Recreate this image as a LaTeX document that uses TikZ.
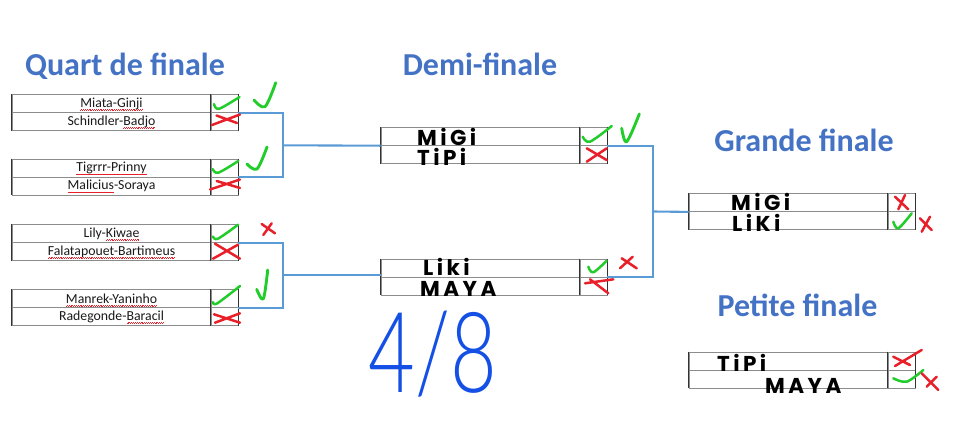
\documentclass[tikz,border=0pt]{standalone}
\usepackage{graphicx}
\usepackage{fontspec}
\setmainfont{Carlito}
\newfontfamily\titlefont{Carlito}
\newfontfamily\hand[LetterSpace=16]{Poppins}
\newfontfamily\thinfont{Lato Light}
\definecolor{titleblue}{HTML}{4472C4}
\definecolor{linkblue}{HTML}{5B9BD5}
\definecolor{okgreen}{HTML}{22CC2A}
\definecolor{kored}{HTML}{E8202A}
\definecolor{gridgray}{HTML}{8C8C8C}
\definecolor{handblue}{HTML}{1450E6}
\newsavebox\wavebox
\newcommand\redwave[1]{\sbox\wavebox{#1}\rlap{\usebox\wavebox}\raisebox{-3.2pt}[0pt][0pt]{\color{kored}\xleaders\hbox{\rule[0pt]{0.9pt}{0.55pt}\rule[0.55pt]{0.9pt}{0.55pt}}\hskip\wd\wavebox}}
\newcommand\matchbox[5]{%
  \node[namecell] (#1a) at (#2+99.5,#3+9) {#4};
  \node[rescell] (#1ar) at (#2+212.5,#3+9) {};
  \node[namecell] (#1b) at (#2+99.5,#3+27) {#5};
  \node[rescell] (#1br) at (#2+212.5,#3+27) {};
  \draw[vrule] (#1a.north west) -- (#1b.south west);
  \draw[vrule] (#1ar.north west) -- (#1br.south west);
  \draw[vrule] (#1ar.north east) -- (#1br.south east);
}
\newcommand\okpath[4][okline]{\draw[#1] plot[smooth,tension=0.55] coordinates {(#2) (#3) (#4)};}
\newcommand\kopath[5][koline]{\draw[#1] (#2) -- (#3) (#4) -- (#5);}
\begin{document}
\begin{tikzpicture}[x=1pt,y=-1pt,
  namecell/.style={draw=gridgray, line width=0.8pt, minimum width=199pt, minimum height=18pt, inner sep=0pt, font=\fontsize{13.8}{14}\selectfont, text=black!90},
  rescell/.style={draw=gridgray, line width=0.8pt, minimum width=27pt, minimum height=18pt, inner sep=0pt},
  vrule/.style={draw=black!80, line width=0.8pt},
  link/.style={draw=linkblue, line width=2.1pt},
  title/.style={font=\titlefont\bfseries\fontsize{32}{32}\selectfont, text=titleblue, anchor=base, inner sep=0pt},
  handtext/.style={font=\hand\bfseries\fontsize{21.5}{21.5}\selectfont, text=black, anchor=base west, inner sep=0pt},
  okline/.style={draw=okgreen, line width=2.5pt, line cap=round, line join=round},
  koline/.style={draw=kored, line width=2.5pt, line cap=round, line join=round},
  bigok/.style={okline, line width=2.9pt}
]
\useasboundingbox (0,0) rectangle (960,440);

% titles
\node[title] (tq) at (125,75) {Quart de finale};
\node[title] (td) at (480,75) {Demi-finale};
\node[title] (tg) at (804,151) {Grande finale};
\node[title] (tp) at (797.5,316.5) {Petite finale};

% quarter finals
\matchbox{q1}{12}{94.5}{\redwave{Miata-Ginji}}{Schindler-\redwave{Badjo}}
\matchbox{q2}{12}{159}{\redwave{Tigrrr-Prinny}}{\redwave{Malicius}-Soraya}
\matchbox{q3}{12}{224.5}{Lily-\redwave{Kiwae}}{\redwave{Falatapouet-Bartimeus}}
\matchbox{q4}{12}{289.5}{\redwave{Manrek-Yaninho}}{Radegonde-\redwave{Baracil}}

% semi finals, finals
\matchbox{d1}{381}{127.3}{}{}
\matchbox{d2}{381}{259}{}{}
\matchbox{g1}{689}{193.5}{}{}
\matchbox{p1}{689}{352}{}{}

% handwritten names
\node[handtext] (hd1a) at (417,145) {MiGi};
\node[handtext] (hd1b) at (417,165) {TiPi};
\node[handtext] (hd2a) at (423,275) {Liki};
\node[handtext] (hd2b) at (420,296) {MAYA};
\node[handtext] (hg1a) at (731,210) {MiGi};
\node[handtext] (hg1b) at (732,231) {LiKi};
\node[handtext] (hp1a) at (717,371) {TiPi};
\node[handtext] (hp1b) at (765,393) {MAYA};

% connectors
\coordinate (j1) at (283,145.3);
\draw[link] (q1ar.south east) -| (j1) |- (q2ar.south east);
\draw[link] (j1) -- (d1a.south west);
\coordinate (j2) at (283,275);
\draw[link] (q3ar.south east) -| (j2) |- (q4ar.south east);
\draw[link] (j2) -- (j2 -| d2a.west);
\coordinate (j3) at (653,211.5);
\draw[link] (d1ar.south east) -| (j3) |- (d2ar.south east);
\draw[link] (j3) -- (g1a.south west);

% marks, quarter finals
\okpath{214,104}{219,108.8}{239.5,97}
\kopath{212,125}{240,114.5}{216.5,115.5}{237,123}
\okpath[bigok]{254,100}{265,106.7}{275.7,82.7}
\okpath{212.7,169}{218.3,172.7}{238.3,161}
\kopath{210,189.5}{240,179.5}{216.7,181}{240,188}
\okpath[bigok]{247,164}{257,169}{267,147}
\okpath{213,236.5}{218,238.7}{238,224.7}
\kopath{215,243.7}{240,258.7}{213,258.7}{238,244.7}
\kopath{261.7,224}{275,233.3}{271.7,223.3}{263.3,235}
\okpath{213,302}{217,303.5}{240,286}
\kopath{214,314.3}{240,322.7}{215,322.7}{240,313.3}
\okpath[bigok]{256.7,289.3}{263.3,299}{267.7,270}

% marks, semi finals
\okpath{582.7,136.7}{590,141.7}{611.7,126}
\kopath{586.7,148.3}{606.7,160}{606.7,148.3}{586.7,161.7}
\okpath[bigok]{621.7,128.3}{626.7,141.7}{639.3,114}
\okpath{588.3,266.7}{593.3,272.3}{606.7,260.7}
\kopath{585,283.3}{613.3,279.3}{590,279.3}{608.3,293.3}
\kopath{621.7,258.3}{636.7,268.3}{632.7,256.7}{620,268.3}

% marks, finals
\kopath{895,196.7}{908.3,209.3}{905,195}{898.3,209.3}
\okpath{893.3,221.7}{898.3,228.3}{911.7,213.3}
\kopath{920,218.3}{931.7,230}{930,216.7}{921.7,231.7}
\kopath{893.3,356.7}{910,365}{895,366}{921.7,350}
\okpath{893.3,378.3}{906.7,381.7}{923.3,370}
\kopath{921.7,373.3}{938.3,390}{936.7,376.7}{926.7,386.7}

% score
\node[font=\thinfont\fontsize{112}{112}\selectfont, text=handblue, anchor=base, inner sep=0pt] (score) at (433,392) {\scalebox{0.72}[1]{4/8}};
\end{tikzpicture}
\end{document}
